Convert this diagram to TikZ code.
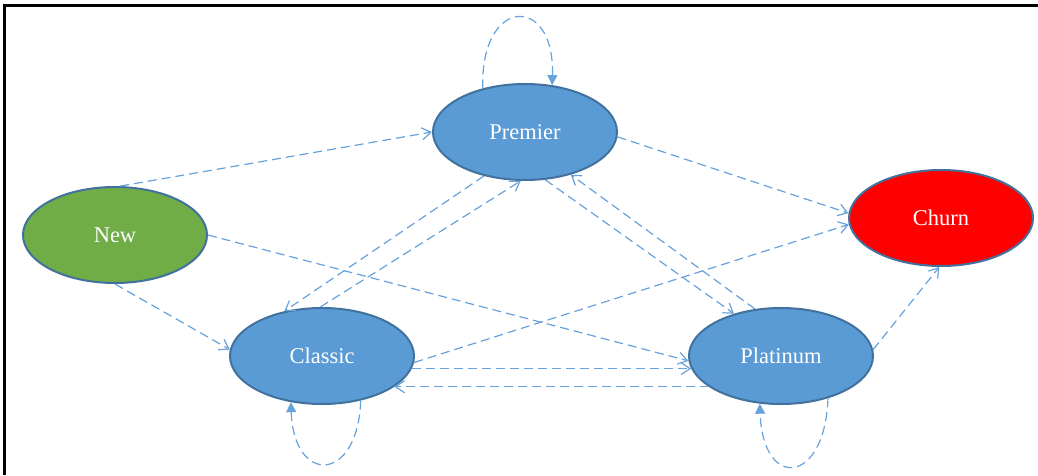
\documentclass[tikz,border=0pt]{standalone}
\usepackage{fontspec}
\setmainfont{Liberation Serif}
\usetikzlibrary{arrows.meta,shapes.geometric}
\definecolor{tierblue}{RGB}{91,155,213}
\definecolor{tierline}{RGB}{65,113,156}
\definecolor{newgreen}{RGB}{112,173,71}
\definecolor{flowblue}{RGB}{104,162,220}
\tikzset{
 tier/.style={ellipse,draw=tierline,line width=2pt,fill=tierblue,minimum width=184pt,minimum height=96pt,inner sep=0,text=white,font=\fontsize{22.5}{26}\selectfont},
 flow/.style={draw=flowblue,line width=1.2pt,dash pattern=on 9pt off 5pt,-{Straight Barb[length=9pt,width=12pt]}},
 loopflow/.style={draw=flowblue,line width=1.2pt,dash pattern=on 9pt off 5pt,-{Triangle[length=10pt,width=10pt]}}
}
\begin{document}
\begin{tikzpicture}[x=1pt,y=1pt]
\path[use as bounding box,fill=white] (0,0) rectangle (1038,475);
\draw[line width=3pt] (4,0) -- (4,469) -- (1038,469);
\node[tier,fill=newgreen] (new) at (115,240) {New};
\node[tier] (premier) at (525,343) {Premier};
\node[tier,fill=red] (churn) at (941,257) {Churn};
\node[tier] (classic) at (322,119) {Classic};
\node[tier] (platinum) at (781,119) {Platinum};
\draw[flow] (new.84) -- (premier.180);
\draw[flow] (new.270) -- (classic.176);
\draw[flow] (new.0) -- (platinum.183);
\draw[flow] (premier.357) -- (churn.177);
\draw[flow] (premier.227) -- (classic.130);
\draw[flow] (classic.92) -- (premier.265);
\draw[flow] (premier.293) -- (platinum.138);
\draw[flow] (platinum.119) -- (premier.317);
\draw[flow] (classic.356) -- (churn.184);
\draw[flow] (classic.352) -- (platinum.188);
\draw[flow] (platinum.203) -- (classic.337);
\draw[flow] (platinum.4) -- (churn.268);
\draw[loopflow] (premier.134) .. controls +(92:92) and +(88:92) .. (premier.60);
\draw[loopflow] (classic.311) .. controls +(-92:83) and +(-88:83) .. (classic.236);
\draw[loopflow] (platinum.318) .. controls +(-92:87) and +(-88:87) .. (platinum.246);
\end{tikzpicture}
\end{document}
